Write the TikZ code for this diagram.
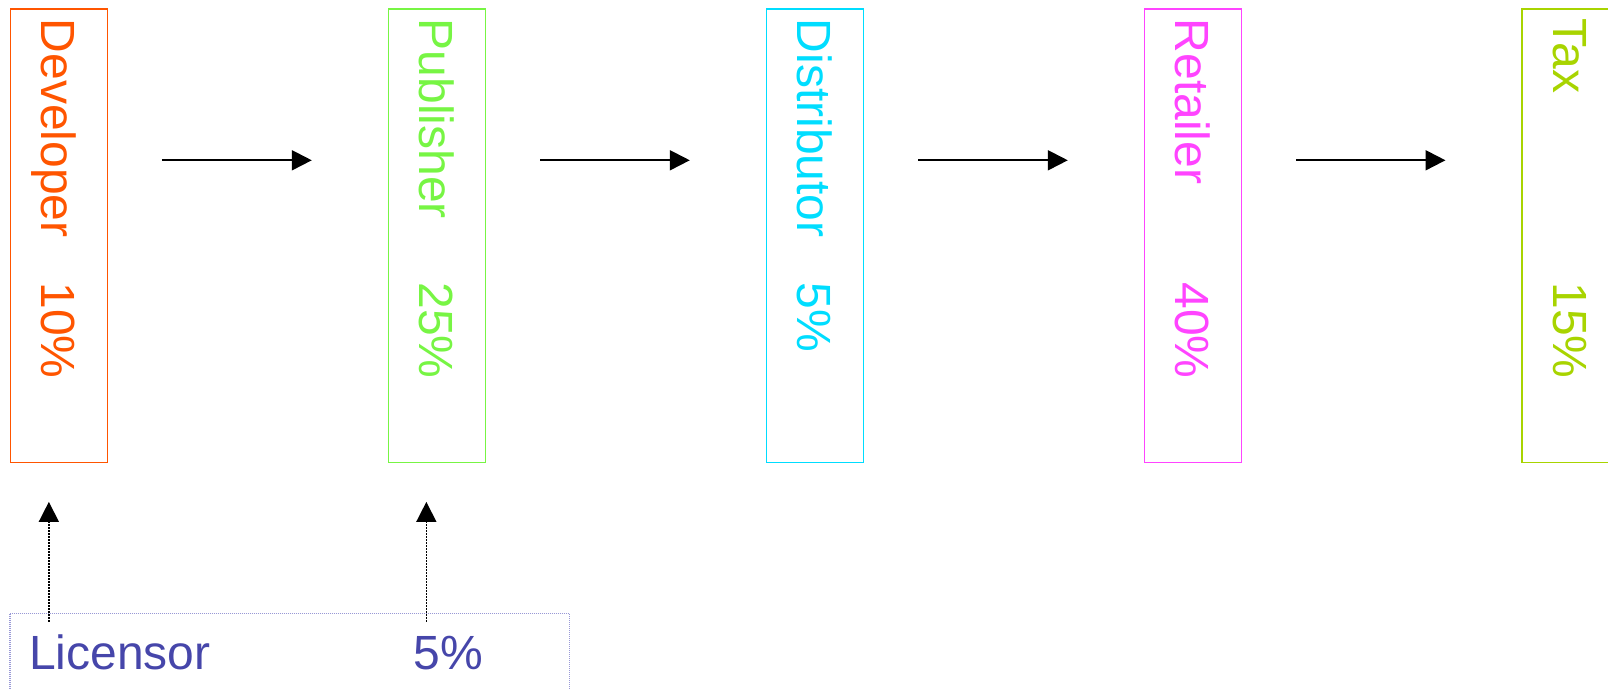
\documentclass[tikz,border=0pt]{standalone}
\usepackage{fontspec}
\setmainfont{Liberation Sans}
\usetikzlibrary{arrows.meta,calc}

\definecolor{devcol}{HTML}{FF5500}
\definecolor{pubcol}{HTML}{77F544}
\definecolor{discol}{HTML}{00DDFF}
\definecolor{retcol}{HTML}{FF44FF}
\definecolor{taxcol}{HTML}{A8D400}
\definecolor{liccol}{HTML}{4646AA}
\definecolor{licframe}{HTML}{9999D6}

\tikzset{
  stage/.style={draw=#1, line width=0.6pt, inner sep=0pt, anchor=north west,
    minimum width=48.75pt, minimum height=226.75pt},
  vlabel/.style={text=#1, rotate=-90, anchor=base west, inner sep=0pt,
    font=\fontsize{24pt}{28pt}\selectfont},
  hlabel/.style={text=liccol, anchor=base west, inner sep=0pt,
    font=\fontsize{24pt}{28pt}\selectfont},
  flow/.style={-{Triangle[length=10pt,width=10pt]}, line width=1pt, black},
  royalty/.style={-{Triangle[length=10pt,width=10pt]}, line width=0.75pt,
    black, dash pattern=on 0.75pt off 0.75pt},
}

\begin{document}
\begin{tikzpicture}[x=0.5pt,y=-0.5pt]
  \useasboundingbox (0,0) rectangle (1608,689);
  \clip (0,0) rectangle (1608,689);

  % stage boxes along the value chain
  \node[stage=devcol] (dev) at (9.5,8.5) {};
  \node[stage=pubcol] (pub) at (387.6,8.5) {};
  \node[stage=discol] (dis) at (765.6,8.5) {};
  \node[stage=retcol] (ret) at (1143.6,8.5) {};
  \node[stage=taxcol] (tax) at (1521.3,8.5) {};

  % vertical names and shares
  \foreach \b/\c/\name/\share in {dev/devcol/Developer/10\%, pub/pubcol/Publisher/25\%,
      dis/discol/Distributor/5\%, ret/retcol/Retailer/40\%, tax/taxcol/Tax/15\%}{
    \node[vlabel=\c] (\b-name) at ($(\b.north west)+(32.3,10)$) {\name};
    \node[vlabel=\c] (\b-share) at ($(\b.north west)+(32.3,273.5)$) {\share};
  }

  % horizontal flow arrows
  \coordinate (lvl) at (0,160.3);
  \foreach \a/\b in {dev/pub, pub/dis, dis/ret, ret/tax}{
    \draw[flow, shorten <=26.85pt, shorten >=37.9pt] (\a.east |- lvl) -- (\b.west |- lvl);
  }

  % licensor box
  \node[draw=licframe, line width=0.6pt, dash pattern=on 0.5pt off 0.5pt,
        inner sep=0pt, anchor=north west, minimum width=279.85pt,
        minimum height=60pt] (lic) at (9.3,612.7) {};
  \node[hlabel] (lic-name) at (28.8,669.3) {Licensor};
  \node[hlabel] (lic-share) at (413,669.3) {5\%};

  % royalty arrows from the licensor
  \draw[royalty] ($(dev.south |- lic.north)+(-10,9)$) -- ($(dev.south)+(-10,38.7)$);
  \draw[royalty] ($(pub.south |- lic.north)+(-10.6,9)$) -- ($(pub.south)+(-10.6,38.7)$);
\end{tikzpicture}
\end{document}
